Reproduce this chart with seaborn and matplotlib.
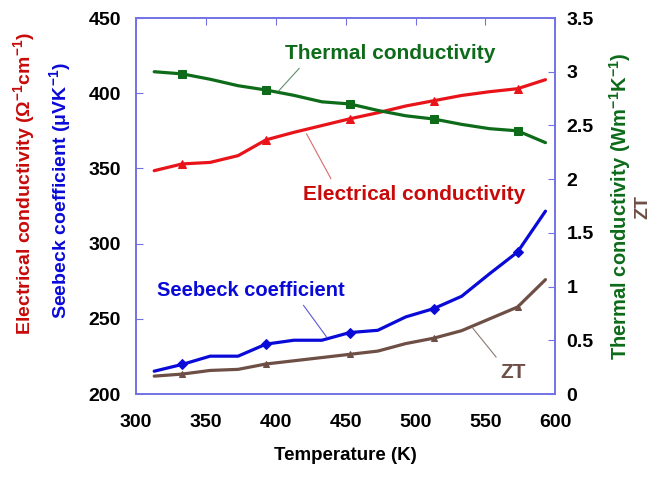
import numpy as np
import pandas as pd
import matplotlib
matplotlib.use("Agg")
import matplotlib.pyplot as plt
import seaborn as sns

# data
temperature = [313, 333, 353, 373, 393, 413, 433, 453, 473, 493, 513, 533, 553, 573, 593]
elec_cond = [348.5, 353, 354, 358.5, 369, 374, 378.5, 383, 387, 391.5, 395, 398.5, 401, 403, 409]
seebeck = [215.2, 219.7, 225.2, 225.2, 233.2, 235.8, 235.8, 240.9, 242.4, 251.3, 256.8, 265, 280, 294.4, 321.6]
thermal_cond = [3.0, 2.98, 2.93, 2.87, 2.83, 2.78, 2.72, 2.70, 2.64, 2.59, 2.56, 2.51, 2.47, 2.45, 2.34]
zt = [0.167, 0.186, 0.22, 0.23, 0.28, 0.31, 0.34, 0.37, 0.40, 0.47, 0.52, 0.59, 0.70, 0.81, 1.065]

df = pd.DataFrame({"T": temperature, "sigma": elec_cond, "S": seebeck,
                   "kappa": thermal_cond, "ZT": zt})

sns.set_style("white")
plt.rcParams.update({
    "font.family": ["Liberation Sans", "DejaVu Sans"],
    "font.weight": "bold",
    "text.color": "black",
    "axes.labelcolor": "black",
    "xtick.labelcolor": "black",
    "ytick.labelcolor": "black",
    "mathtext.fontset": "custom",
    "mathtext.rm": "Liberation Sans:bold",
    "mathtext.it": "Liberation Sans:bold",
    "mathtext.bf": "Liberation Sans:bold",
})

RED, RED_TXT = "#e8141a", "#c80a0a"
BLUE = "#0a0ad8"
GREEN = "#0d6b1a"
BROWN = "#6e4f45"
SPINE = "#7272e6"

fig = plt.figure(figsize=(6.54, 4.8), dpi=100)
ax = fig.add_axes([0.208, 0.179, 0.641, 0.7835])
ax2 = ax.twinx()

lw = 2.3
sns.lineplot(data=df, x="T", y="sigma", ax=ax, color=RED, lw=lw,
             marker="^", markersize=6, markevery=(1, 3), markeredgecolor=RED)
sns.lineplot(data=df, x="T", y="S", ax=ax, color=BLUE, lw=lw,
             marker="D", markersize=5.5, markevery=(1, 3), markeredgecolor=BLUE)
sns.lineplot(data=df, x="T", y="kappa", ax=ax2, color=GREEN, lw=lw,
             marker="s", markersize=5.5, markevery=(1, 3), markeredgecolor=GREEN)
sns.lineplot(data=df, x="T", y="ZT", ax=ax2, color=BROWN, lw=lw,
             marker="^", markersize=5, markevery=(1, 3), markeredgecolor=BROWN)

ax.set_xlim(300, 600)
ax.set_ylim(200, 450)
ax2.set_ylim(0, 3.5)
ax.set_xticks(np.arange(300, 601, 50))
ax.set_yticks(np.arange(200, 451, 50))
ax2.set_yticks(np.arange(0, 3.51, 0.5))
ax2.set_yticklabels(["0", "0.5", "1", "1.5", "2", "2.5", "3", "3.5"])

for a in (ax, ax2):
    for s in a.spines.values():
        s.set_color(SPINE)
        s.set_linewidth(1.2)
    a.set_ylabel("")
ax.set_xlabel("Temperature (K)", fontsize=13.5, fontweight="bold", labelpad=12,
              color="black")
ax.tick_params(axis="x", direction="in", length=5, color=SPINE, top=True,
               labelsize=14, pad=14, labelcolor="black")
ax.tick_params(axis="y", direction="in", length=5, color=SPINE,
               labelsize=14, pad=11, labelcolor="black")
ax2.tick_params(axis="y", direction="in", length=5, color=SPINE,
                labelsize=14, pad=8, labelcolor="black")

# axis titles (two on each side)
fig.text(0.037, 0.618, r"Electrical conductivity ($\Omega^{-1}$cm$^{-1}$)",
         rotation=90, ha="center", va="center", color=RED_TXT, fontsize=14,
         fontweight="bold")
fig.text(0.092, 0.602, r"Seebeck coefficient ($\mu$VK$^{-1}$)",
         rotation=90, ha="center", va="center", color=BLUE, fontsize=14,
         fontweight="bold")
fig.text(0.948, 0.571, r"Thermal conductivity (Wm$^{-1}$K$^{-1}$)",
         rotation=90, ha="center", va="center", color=GREEN, fontsize=14.5,
         fontweight="bold")
fig.text(0.983, 0.569, "ZT", rotation=90, ha="center", va="center",
         color=BROWN, fontsize=14, fontweight="bold")

# callouts
ax2.annotate("Thermal conductivity", xy=(402, 2.82), xytext=(482, 3.17),
             ha="center", va="center", color=GREEN, fontsize=15, fontweight="bold",
             arrowprops=dict(arrowstyle="-", color="#5f8f68", lw=0.8,
                             relpos=(0.09, 0.0), shrinkA=2, shrinkB=0))
ax.annotate("Electrical conductivity", xy=(422, 373), xytext=(499, 333),
            ha="center", va="center", color=RED_TXT, fontsize=15, fontweight="bold",
            arrowprops=dict(arrowstyle="-", color="#d86a6a", lw=0.8,
                            relpos=(0.14, 1.0), shrinkA=2, shrinkB=0))
ax.annotate("Seebeck coefficient", xy=(436.5, 237.8), xytext=(382, 269),
            ha="center", va="center", color=BLUE, fontsize=14.5, fontweight="bold",
            arrowprops=dict(arrowstyle="-", color="#5a5ad8", lw=0.8,
                            relpos=(0.76, 0.0), shrinkA=2, shrinkB=0))
ax2.annotate("ZT", xy=(541, 0.613), xytext=(570, 0.205),
             ha="center", va="center", color=BROWN, fontsize=15, fontweight="bold",
             arrowprops=dict(arrowstyle="-", color="#8a7a74", lw=0.8,
                             relpos=(0.0, 1.0), shrinkA=2, shrinkB=0))

fig.savefig("out.png", dpi=100)
